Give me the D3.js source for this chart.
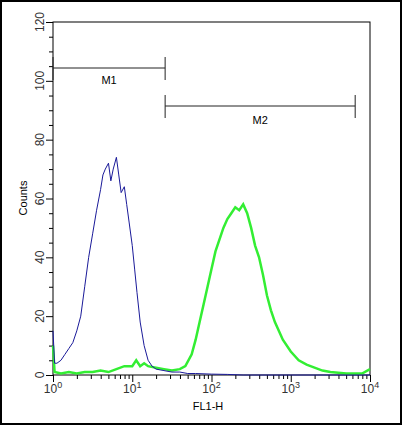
<!DOCTYPE html><html><head><meta charset="utf-8">
<script src="https://cdn.jsdelivr.net/npm/d3@7"></script>
<style>body{margin:0;background:#fff}</style></head><body>
<svg id="c" width="402" height="425"></svg>
<script>
const xTicks=[1,10,100,1000,10000];
const yTicks=[0,20,40,60,80,100,120];
const blueLog=[0,0.02,0.05,0.1,0.15,0.2,0.25,0.3,0.35,0.4,0.45,0.5,0.55,0.6,0.63,0.66,0.7,0.73,0.76,0.8,0.83,0.86,0.9,0.93,0.96,1.0,1.03,1.06,1.1,1.15,1.2,1.25,1.3,1.4,1.5,1.6,1.7,1.8,2.0,2.2,2.4,3.0,4.0];
const blueCount=[15,4,4,5,7,9,11,15,20,30,40,48,56,63,68,70,72,66,70,74,68,62,64,58,52,44,36,28,18,10,5,3,2,1.5,1,1,0.5,0.5,0.3,0.2,0,0,0];
const greenLog=[0,0.02,0.1,0.2,0.3,0.4,0.5,0.6,0.7,0.8,0.9,1.0,1.05,1.1,1.15,1.2,1.3,1.4,1.5,1.6,1.67,1.75,1.8,1.85,1.9,1.95,2.0,2.05,2.1,2.15,2.2,2.25,2.3,2.35,2.4,2.45,2.5,2.55,2.6,2.65,2.7,2.75,2.8,2.9,3.0,3.1,3.2,3.3,3.4,3.5,3.7,3.9,4.0];
const greenCount=[10,1,0.5,1,0.5,1,1,1.5,1,2,3,3,5,3,4,3,2.5,2,1.5,2,3,7,12,18,24,30,36,42,46,50,53,55,57,56,58,55,50,44,40,34,27,22,18,12,8,5,3.5,2.5,1.5,1,0.5,0.5,2];
const svg=d3.select('#c');
svg.append('rect').attr('x',1).attr('y',1).attr('width',400).attr('height',423).attr('fill','none').attr('stroke','#000').attr('stroke-width',2);
const x=d3.scaleLog().domain([1,10000]).range([53,370]);
const y=d3.scaleLinear().domain([0,120]).range([375,22]);
const font='Liberation Sans, Arial, sans-serif';
svg.append('rect').attr('x',53).attr('y',22).attr('width',317).attr('height',353).attr('fill','none').attr('stroke','#000').attr('stroke-width',1);
// y axis
const ya=svg.append('g').attr('transform','translate(53,0)').call(d3.axisLeft(y).tickValues(d3.range(0,121,5)).tickSize(3).tickFormat(''));
ya.selectAll('.tick line').attr('x2',d=>d%20===0?-7:-4);
ya.select('.domain').remove();
yTicks.forEach(v=>svg.append('text').attr('transform',`translate(44,${y(v)}) rotate(-90)`).attr('text-anchor','middle').attr('font-family',font).attr('font-size',12).attr('fill','#333').text(v));
svg.append('text').attr('transform','translate(27,198) rotate(-90)').attr('text-anchor','middle').attr('font-family',font).attr('font-size',11).text('Counts');
// x axis
const minor=[];for(let d=1;d<10000;d*=10)for(let k=1;k<10;k++)minor.push(d*k);minor.push(10000);
const xa=svg.append('g').attr('transform','translate(0,375)').call(d3.axisBottom(x).tickValues(minor).tickSize(4).tickFormat(''));
xa.selectAll('.tick line').attr('y2',d=>xTicks.includes(d)?7:4);
xa.select('.domain').remove();
xTicks.forEach((v,i)=>{const t=svg.append('text').attr('x',x(v)).attr('y',393).attr('text-anchor','middle').attr('font-family',font).attr('font-size',12).attr('fill','#333');t.append('tspan').text('10');t.append('tspan').attr('dy',-5).attr('font-size',9).text(i);});
svg.append('text').attr('x',208).attr('y',410).attr('text-anchor','middle').attr('font-family',font).attr('font-size',11).text('FL1-H');
// markers
function marker(a,b,yy,lab,ly){svg.append('line').attr('x1',x(a)).attr('x2',x(b)).attr('y1',yy).attr('y2',yy).attr('stroke','#222');
[a,b].forEach(v=>svg.append('line').attr('x1',x(v)).attr('x2',x(v)).attr('y1',yy-11).attr('y2',yy+12).attr('stroke','#222'));
svg.append('text').attr('x',(x(a)+x(b))/2).attr('y',ly).attr('text-anchor','middle').attr('font-family',font).attr('font-size',11).text(lab);}
marker(1,26,68,'M1',84);marker(26,6500,106,'M2',124);
const line=d3.line().x(d=>x(Math.pow(10,d[0]))).y(d=>y(d[1]));
svg.append('path').attr('d',line(greenLog.map((v,i)=>[v,greenCount[i]]))).attr('fill','none').attr('stroke','#33ee33').attr('stroke-width',2.5);
svg.append('path').attr('d',line(blueLog.map((v,i)=>[v,blueCount[i]]))).attr('fill','none').attr('stroke','#1a1a99').attr('stroke-width',1);
</script></body></html>
